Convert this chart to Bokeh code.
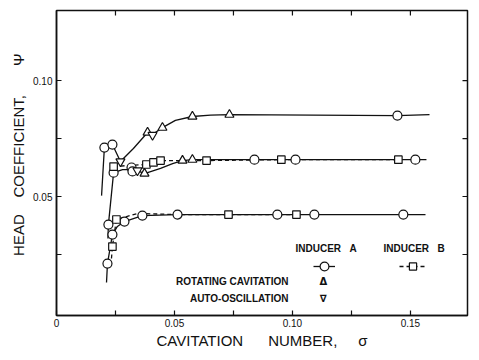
from bokeh.plotting import figure
from bokeh.models import FixedTicker, CustomJSTickFormatter, Label, Legend, LegendItem, Range1d
from bokeh.embed import file_html
from bokeh.resources import INLINE

# ---------------- data (sigma = cavitation number, psi = head coefficient) -------------
# curve traces
upper_a_sigma = [0.0191, 0.0203, 0.0237, 0.0271, 0.0326, 0.0386, 0.0407, 0.0449, 0.0504,
                 0.0576, 0.0653, 0.0733, 0.1445, 0.1581]
upper_a_psi = [0.0504, 0.0711, 0.0724, 0.0651, 0.0707, 0.0776, 0.0767, 0.0797, 0.0828,
               0.0845, 0.0851, 0.0853, 0.0849, 0.0853]

middle_a_sigma = [0.0218, 0.0220, 0.0242, 0.0280, 0.0318, 0.0343, 0.0373, 0.0441, 0.0492,
                  0.0534, 0.0576, 0.0839, 0.1013, 0.1521, 0.1568]
middle_a_psi = [0.0319, 0.0379, 0.0603, 0.0616, 0.0616, 0.0612, 0.0599, 0.0621, 0.0642,
                0.0655, 0.0659, 0.0659, 0.0659, 0.0659, 0.0659]

middle_b_sigma = [0.0242, 0.0305, 0.0381, 0.0411, 0.0441, 0.0534, 0.0636, 0.0953, 0.1449]
middle_b_psi = [0.0629, 0.0634, 0.0638, 0.0647, 0.0655, 0.0655, 0.0655, 0.0659, 0.0659]

lower_a_sigma = [0.0212, 0.0216, 0.0237, 0.0258, 0.0288, 0.0364, 0.0513, 0.0936, 0.1093,
                 0.1470, 0.1564]
lower_a_psi = [0.0129, 0.0211, 0.0336, 0.0371, 0.0392, 0.0418, 0.0422, 0.0422, 0.0422,
               0.0422, 0.0422]

lower_b_sigma = [0.0233, 0.0237, 0.0254, 0.0343, 0.0513, 0.0729, 0.1017]
lower_b_psi = [0.0233, 0.0284, 0.0401, 0.0427, 0.0422, 0.0422, 0.0422]

# measured points by marker type
a_circle_sigma = [0.0203, 0.0237, 0.1445,
                  0.0220, 0.0242, 0.0318, 0.0322, 0.0839, 0.1013, 0.1521,
                  0.0216, 0.0237, 0.0288, 0.0364, 0.0513, 0.0936, 0.1093, 0.1470]
a_circle_psi = [0.0711, 0.0724, 0.0849,
                0.0379, 0.0603, 0.0625, 0.0608, 0.0659, 0.0659, 0.0659,
                0.0211, 0.0336, 0.0392, 0.0418, 0.0422, 0.0422, 0.0422, 0.0422]

b_square_sigma = [0.0242, 0.0381, 0.0411, 0.0441, 0.0636, 0.0953, 0.1449,
                  0.0237, 0.0254, 0.0729, 0.1017]
b_square_psi = [0.0629, 0.0638, 0.0647, 0.0655, 0.0655, 0.0659, 0.0659,
                0.0284, 0.0401, 0.0422, 0.0422]

rot_cav_sigma = [0.0386, 0.0449, 0.0576, 0.0733, 0.0373, 0.0534, 0.0576]
rot_cav_psi = [0.0776, 0.0797, 0.0845, 0.0853, 0.0599, 0.0655, 0.0659]

auto_osc_sigma = [0.0271, 0.0407, 0.0343]
auto_osc_psi = [0.0651, 0.0765, 0.0612]

x_ticks = [0, 0.05, 0.10, 0.15]
x_minor = [0.025, 0.075, 0.125]
y_ticks = [0.05, 0.10]
y_minor = [0.025, 0.075]

X_MIN, X_MAX = 0.0, 0.1742
Y_MIN, Y_MAX = -0.0013, 0.1302

# ---------------- figure ---------------------------------------------------------------
FONT = "Liberation Sans"
INK = "#111111"
FRAME_W, FRAME_H = 411, 305

p = figure(width=479, height=360, x_range=Range1d(X_MIN, X_MAX), y_range=Range1d(Y_MIN, Y_MAX),
           output_backend="svg", toolbar_location=None,
           min_border_left=56, min_border_right=12, min_border_top=10, min_border_bottom=45)
p.grid.visible = False
p.outline_line_color = INK
p.outline_line_width = 1.5
p.background_fill_color = "white"
p.border_fill_color = "white"

fmt = CustomJSTickFormatter(code="return tick == 0 ? '0' : tick.toFixed(2);")

for ax, tk in ((p.xaxis[0], FixedTicker(ticks=x_ticks, minor_ticks=x_minor)),
               (p.yaxis[0], FixedTicker(ticks=y_ticks, minor_ticks=y_minor))):
    ax.ticker = tk
    ax.formatter = fmt
    ax.axis_line_color = INK
    ax.axis_line_width = 1.5
    ax.major_tick_in = 5
    ax.major_tick_out = 0
    ax.minor_tick_in = 5
    ax.minor_tick_out = 0
    ax.major_tick_line_color = INK
    ax.minor_tick_line_color = INK
    ax.major_tick_line_width = 1.2
    ax.minor_tick_line_width = 1.2
    ax.major_label_text_font = FONT
    ax.major_label_text_font_size = "10px"
    ax.major_label_text_color = INK
    ax.axis_label_text_font = FONT
    ax.axis_label_text_font_size = "15px"
    ax.axis_label_text_font_style = "normal"
    ax.axis_label_text_color = INK

nb = "\u00a0"
p.xaxis.axis_label = "CAVITATION" + nb * 6 + "NUMBER," + nb * 5 + "\u03c3"
p.yaxis.axis_label = nb * 4 + "HEAD" + nb * 4 + "COEFFICIENT," + nb * 7 + "\u03a8"
p.xaxis.major_label_standoff = 3
p.xaxis.axis_label_standoff = 2
p.yaxis.major_label_standoff = 4
p.yaxis.axis_label_standoff = 3

# inward ticks on the top and right frame edges (same tick values as the axes)
dx = 5 * (X_MAX - X_MIN) / FRAME_W
dy = 5 * (Y_MAX - Y_MIN) / FRAME_H
top_t = x_ticks[1:] + x_minor
right_t = y_ticks + y_minor
p.segment(x0=top_t, x1=top_t, y0=[Y_MAX] * len(top_t), y1=[Y_MAX - dy] * len(top_t),
          line_color=INK, line_width=1.2)
p.segment(x0=[X_MAX] * len(right_t), x1=[X_MAX - dx] * len(right_t), y0=right_t, y1=right_t,
          line_color=INK, line_width=1.2)

# ---------------- curves ---------------------------------------------------------------
LW = 1.3
p.line(upper_a_sigma, upper_a_psi, line_color=INK, line_width=LW)
p.line(middle_a_sigma, middle_a_psi, line_color=INK, line_width=LW)
p.line(middle_b_sigma, middle_b_psi, line_color=INK, line_width=LW, line_dash="4 3")
r_low_a = p.line(lower_a_sigma, lower_a_psi, line_color=INK, line_width=LW)
r_low_b = p.line(lower_b_sigma, lower_b_psi, line_color=INK, line_width=LW, line_dash="4 3")

r_circ = p.scatter(a_circle_sigma, a_circle_psi, marker="circle", size=9,
                   fill_color="white", line_color=INK, line_width=1.2)
r_sq = p.scatter(b_square_sigma, b_square_psi, marker="square", size=7.5,
                 fill_color="white", line_color=INK, line_width=1.2)
p.scatter(rot_cav_sigma, rot_cav_psi, marker="triangle", size=9,
          fill_color="white", line_color=INK, line_width=1.2)
p.scatter(auto_osc_sigma, auto_osc_psi, marker="inverted_triangle", size=9,
          fill_color="white", line_color=INK, line_width=1.2)

# ---------------- legend ---------------------------------------------------------------
def leg_text(x, y, text, align="left", font=FONT):
    p.add_layout(Label(x=x, y=y, text=text, text_align=align, text_baseline="middle",
                       text_font=font, text_font_size="10px", text_font_style="bold",
                       text_color=INK))


leg_text(0.1013, 0.0276, "INDUCER" + nb * 3 + "A")
leg_text(0.1386, 0.0276, "INDUCER" + nb * 3 + "B")
leg_text(0.0983, 0.0134, "ROTATING CAVITATION", align="right")
leg_text(0.0983, 0.0060, "AUTO-OSCILLATION", align="right")
leg_text(0.1131, 0.0134, "\u0394", align="center", font="DejaVu Sans")
leg_text(0.1131, 0.0060, "\u2207", align="center", font="DejaVu Sans")

common = dict(padding=0, margin=0, spacing=0, label_standoff=0,
              border_line_color=None, background_fill_color=None,
              background_fill_alpha=0, label_text_font_size="1px",
              inactive_fill_alpha=0)
leg_a = Legend(items=[LegendItem(label=" ", renderers=[r_low_a, r_circ])],
               location=(257, 38), glyph_width=22, glyph_height=22, **common)
leg_b = Legend(items=[LegendItem(label=" ", renderers=[r_low_b, r_sq])],
               location=(343, 40), glyph_width=27, glyph_height=18, **common)
p.add_layout(leg_a)
p.add_layout(leg_b)

open("out.html", "w").write(file_html(p, INLINE))
